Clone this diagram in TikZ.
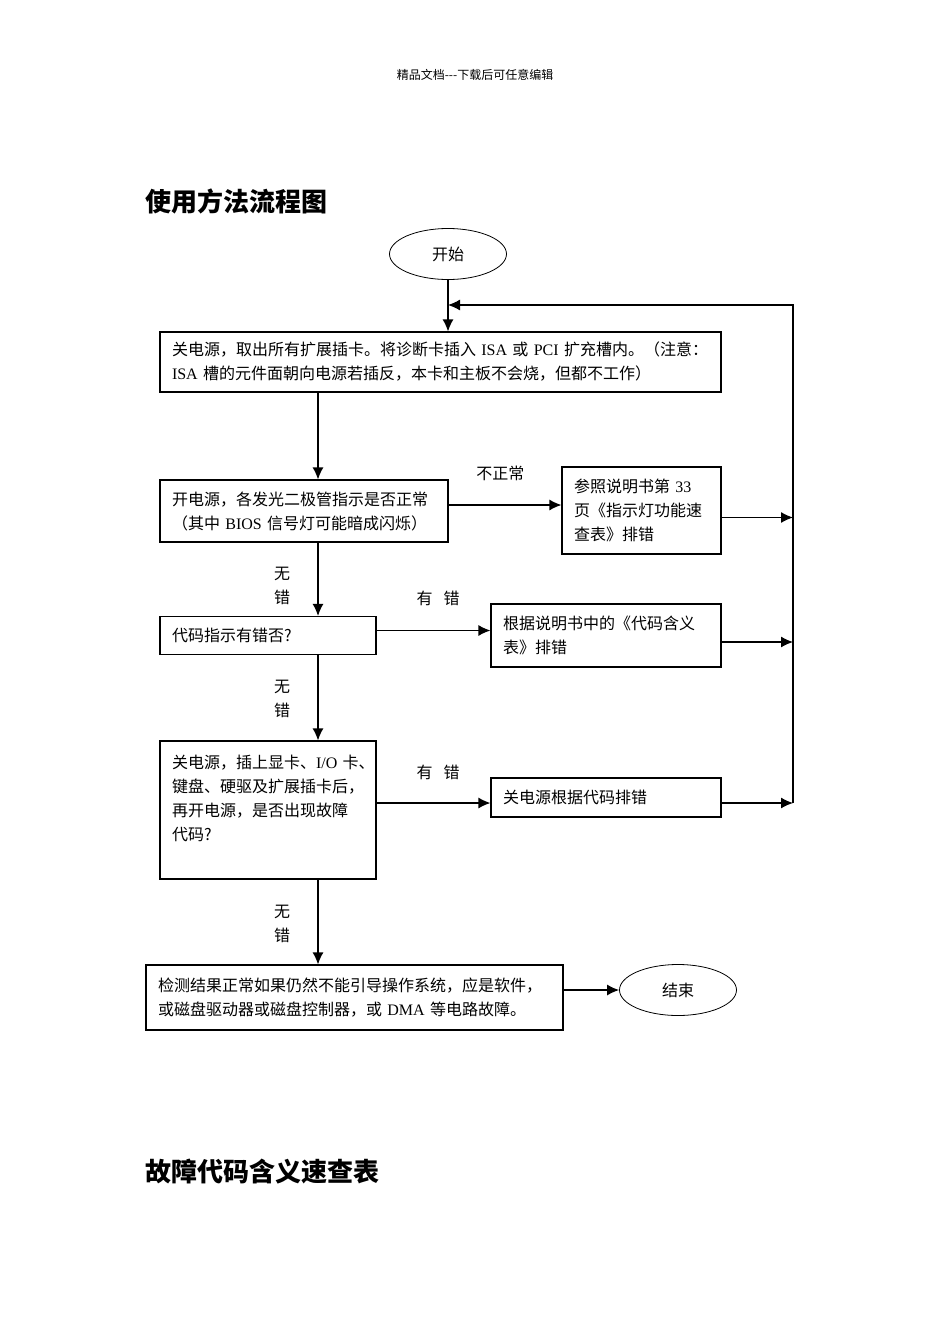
\documentclass[tikz,border=0pt]{standalone}
\usepackage{fontspec}
\setmainfont{Liberation Serif}
\newfontfamily\cjk{Noto Sans CJK SC}
\newfontfamily\latin{Liberation Serif}
\usetikzlibrary{arrows.meta,shapes.geometric}
\newcommand{\lw}[1]{{\latin #1}}

\begin{document}
\begin{tikzpicture}[x=1pt,y=-1pt,
  stepbox/.style={draw, line width=1.2pt, align=left, inner xsep=12pt, inner ysep=0pt, font=\cjk\fontsize{16}{24}\selectfont},
  terminal/.style={draw, ellipse, line width=0.8pt, inner sep=0pt, minimum width=117pt, minimum height=51pt, font=\cjk\fontsize{16}{24}\selectfont},
  lbl/.style={font=\cjk\fontsize{16}{24}\selectfont, align=center, inner sep=0pt},
  flow/.style={draw, line width=1.2pt, ->, >={Latex[length=12pt,width=11pt]}}]
\useasboundingbox (0,0) rectangle (950,1344);

\node[font=\cjk\fontsize{12}{14}\selectfont] (header) at (475,75) {精品文档---下载后可任意编辑};
\node[anchor=west, inner sep=0pt, font=\cjk\bfseries\fontsize{26}{30}\selectfont] (title) at (145,201) {使用方法流程图};

\node[terminal] (start) at (448,254) {开始};
\node[stepbox, text width=537pt, minimum height=60pt] (power) at (440.5,362) {关电源，取出所有扩展插卡。将诊断卡插入~\lw{ISA}~或~\lw{PCI}~扩充槽内。（注意：\\\lw{ISA}~槽的元件面朝向电源若插反，本卡和主板不会烧，但都不工作）};
\node[stepbox, text width=264pt, minimum height=62pt] (leds) at (304,511) {开电源，各发光二极管指示是否正常\\（其中~\lw{BIOS}~信号灯可能暗成闪烁）};
\node[stepbox, text width=135pt, minimum height=87pt] (manual) at (641.5,510.5) {参照说明书第~\lw{33}\\页《指示灯功能速\\查表》排错};
\node[stepbox, text width=192pt, minimum height=38pt] (code) at (268,635.5) {代码指示有错否?};
\node[stepbox, text width=206pt, minimum height=63pt] (table) at (606,635.5) {根据说明书中的《代码含义\\表》排错};
\node[stepbox, text width=192pt, minimum height=138pt] (cards) at (268,810) {关电源，插上显卡、\lw{I/O}~卡、\\键盘、硬驱及扩展插卡后，\\再开电源，是否出现故障\\代码?\\~};
\node[stepbox, text width=206pt, minimum height=39pt] (recheck) at (606,797.5) {关电源根据代码排错};
\node[stepbox, text width=393pt, minimum height=65pt] (result) at (354.5,997.5) {检测结果正常如果仍然不能引导操作系统，应是软件，\\或磁盘驱动器或磁盘控制器，或~\lw{DMA}~等电路故障。};
\node[terminal] (end) at (678,990) {结束};

\node[anchor=west, inner sep=0pt, font=\cjk\bfseries\fontsize{26}{30}\selectfont] (subtitle) at (145,1172) {故障代码含义速查表};

\coordinate (spine) at (318,0);
\coordinate (loopTop) at (793,305);
\coordinate (loopBot) at (793,803);

\path[flow] (start) -- (start |- power.north);
\path[flow] (loopBot) -- (loopTop) -- (start |- loopTop);
\path[flow] (power.south -| spine) -- (leds.north -| spine);
\path[flow] ([yshift=6pt]leds.east) -- node[lbl, pos=0.46, yshift=32pt] {不正常} ([yshift=6pt]leds.east -| manual.west);
\path[flow] ([yshift=-7pt]manual.east) -- ([yshift=-7pt]manual.east -| loopTop);
\path[flow] (leds.south -| spine) -- node[lbl, pos=0.59, xshift=-36pt] {无\\错} (code.north -| spine);
\path[flow] ([yshift=5pt]code.east) -- node[lbl, pos=0.54, yshift=32pt] {有\hspace{11pt}错} ([yshift=5pt]code.east -| table.west);
\path[flow] ([yshift=-6.5pt]table.east) -- ([yshift=-6.5pt]table.east -| loopTop);
\path[flow] (code.south -| spine) -- node[lbl, pos=0.51, xshift=-36pt] {无\\错} (cards.north -| spine);
\path[flow] ([yshift=-5.5pt]recheck.west -| cards.east) -- node[lbl, pos=0.54, yshift=31pt] {有\hspace{11pt}错} ([yshift=-5.5pt]recheck.west);
\path[flow] ([yshift=-5.5pt]recheck.east) -- (loopBot);
\path[flow] (cards.south -| spine) -- node[lbl, pos=0.52, xshift=-36pt] {无\\错} (result.north -| spine);
\path[flow] (end.west -| result.east) -- (end.west);
\end{tikzpicture}
\end{document}
